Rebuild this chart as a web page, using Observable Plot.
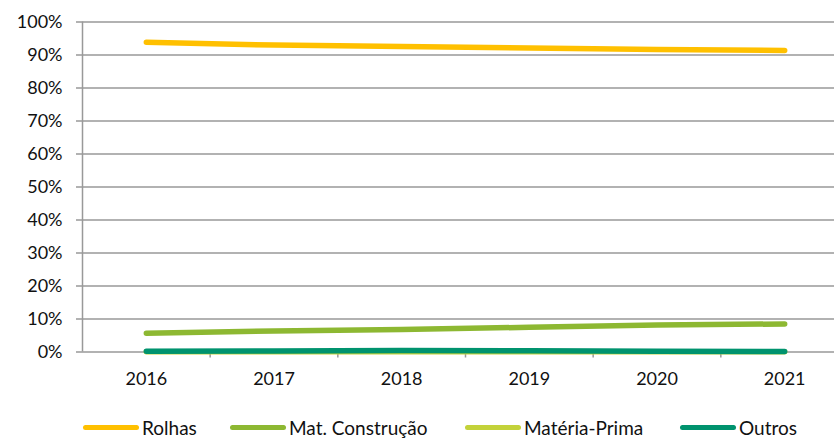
<!DOCTYPE html>
<html>
<head>
<meta charset="utf-8">
<script src="https://cdn.jsdelivr.net/npm/d3@7"></script>
<script src="https://cdn.jsdelivr.net/npm/@observablehq/plot@0.6"></script>
<style>
  html, body { margin: 0; padding: 0; background: #fff; }
  #chart { width: 834px; height: 438px; position: relative; font-family: Lato, "Open Sans", sans-serif; }
  #legend { position: absolute; left: 0; top: 418px; width: 834px; height: 19px; font-size: 19px; line-height: 19px; color: #111; }
  .item { position: absolute; top: 0; height: 19px; display: flex; align-items: center; white-space: nowrap; }
  .sw { display: inline-block; width: 56px; height: 5px; border-radius: 3px; margin-right: 3px; }
</style>
</head>
<body>
<div id="chart"></div>
<script>
const years = [2016, 2017, 2018, 2019, 2020, 2021];
const seriesNames = ["Rolhas", "Mat. Construção", "Matéria-Prima", "Outros"];
const rolhas = [93.9, 93.0, 92.6, 92.1, 91.7, 91.4];
const matConstrucao = [5.7, 6.4, 6.8, 7.5, 8.2, 8.5];
const materiaPrima = [0.05, 0.05, 0.1, 0.1, 0.05, 0.05];
const outros = [0.2, 0.3, 0.45, 0.35, 0.25, 0.15];
const yTicks = [0, 10, 20, 30, 40, 50, 60, 70, 80, 90, 100];
const colors = ["#FFC000", "#8DB832", "#C3D23A", "#00936E"];

const valuesBySeries = [rolhas, matConstrucao, materiaPrima, outros];
const data = seriesNames.flatMap((s, i) =>
  years.map((y, j) => ({series: s, year: y, value: valuesBySeries[i][j] / 100}))
);
const boundaries = years.slice(0, -1).map(y => y + 0.5);

const plot = Plot.plot({
  width: 834,
  height: 400,
  marginTop: 21.5,
  marginBottom: 48.5,
  marginLeft: 82,
  marginRight: 0,
  style: {fontFamily: "Lato, 'Open Sans', sans-serif", fontSize: "18px", color: "#111", background: "#fff"},
  x: {type: "linear", domain: [years[0] - 0.5, years[years.length - 1] + 0.5], range: [82, 848]},
  y: {domain: [0, 1]},
  color: {domain: seriesNames, range: colors},
  marks: [
    Plot.gridY(yTicks.map(t => t / 100), {stroke: "#999", strokeOpacity: 1, strokeWidth: 1.5}),
    Plot.ruleX([years[0] - 0.5], {stroke: "#999", strokeWidth: 1.5}),
    Plot.axisY(yTicks.map(t => t / 100), {tickFormat: d => Math.round(d * 100) + "%", tickSize: 6, tickPadding: 14, stroke: "#999", strokeWidth: 1.5, label: null, fontSize: 18}),
    Plot.axisX(boundaries, {tickSize: 6, tickFormat: () => "", stroke: "#999", strokeWidth: 1.5, label: null}),
    Plot.axisX(years, {tickSize: 0, tickPadding: 20, tickFormat: d => String(d), label: null, fontSize: 18}),
    Plot.line(data, {x: "year", y: "value", z: "series", stroke: "series", strokeWidth: 5.5, strokeLinecap: "round", strokeLinejoin: "round"})
  ]
});
document.getElementById("chart").appendChild(plot);

const legend = document.createElement("div");
legend.id = "legend";
const itemLeft = [83, 230, 465, 680];
seriesNames.forEach((s, i) => {
  const it = document.createElement("div");
  it.className = "item";
  it.style.left = itemLeft[i] + "px";
  const sw = document.createElement("span");
  sw.className = "sw";
  sw.style.background = colors[i];
  const tx = document.createElement("span");
  tx.textContent = s;
  it.appendChild(sw);
  it.appendChild(tx);
  legend.appendChild(it);
});
document.getElementById("chart").appendChild(legend);
</script>
</body>
</html>
